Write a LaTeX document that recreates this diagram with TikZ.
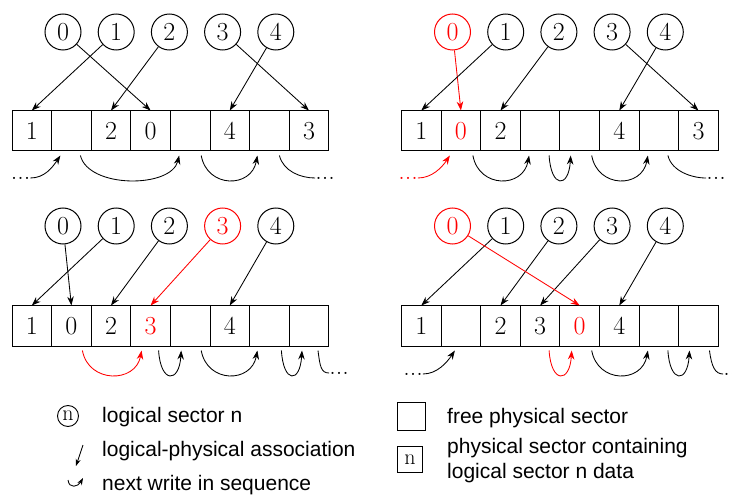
\documentclass[tikz,border=0pt]{standalone}
\usepackage{fontspec}
\setsansfont{Liberation Sans}
\usetikzlibrary{arrows.meta,calc}
\tikzset{
  digitfont/.style={font=\fontsize{26}{26}\selectfont},
  cellbox/.style={draw, line width=1pt, minimum width=39.6pt, minimum height=40pt, inner sep=0pt, digitfont},
  lsec/.style={draw, circle, line width=1pt, minimum size=36pt, inner sep=0pt, digitfont},
  assoc/.style={-{Stealth[length=9pt,width=6.5pt]}, line width=0.85pt},
  nextw/.style={-{Stealth[length=9pt,width=6.5pt]}, line width=0.85pt},
  dotsnode/.style={inner sep=0pt, digitfont},
  legtext/.style={anchor=base west, inner sep=0pt, font=\sffamily\fontsize{21}{21}\selectfont},
  legsmall/.style={draw, line width=0.9pt, inner sep=0pt, font=\fontsize{22}{22}\selectfont},
  legarrow/.style={-{Stealth[length=7pt,width=5pt]}, line width=0.85pt},
}
\begin{document}
\begin{tikzpicture}[x=1pt,y=-1pt]
\fill[white] (0,0) rectangle (732,500);
\useasboundingbox (0,0) rectangle (732,500);

% ---------- Panel A (top left) ----------
\foreach \i/\t/\c in {0/1/black,1//black,2/2/black,3/0/black,4//black,5/4/black,6//black,7/3/black}
  \node[cellbox,text=\c] (A\i) at ({12+39.6*(\i+0.5)},131) {\t};
\foreach \j/\c in {0/black,1/black,2/black,3/black,4/black}
  \node[lsec,draw=\c,text=\c] (Al\j) at ({63+53.2*\j},32) {\j};
\draw[assoc] (Al1) -- (A0.north);
\draw[assoc] (Al0) -- (A3.north);
\draw[assoc] (Al2) -- (A2.north);
\draw[assoc] (Al4) -- (A5.north);
\draw[assoc] (Al3) -- (A7.north);
\node[dotsnode] (Ad1) at (20.5,178) {...};
\node[dotsnode] (Ad2) at (325,178) {...};
\draw[nextw] (Ad1.east) .. controls +(14,0) and +(-8,12) .. ($(A1.south)+(-11,4)$);
\draw[nextw] ($(A1.south)+(9,4)$) .. controls +(8,33) and +(-8,33) .. ($(A4.south)+(-11,4)$);
\draw[nextw] ($(A4.south)+(11,4)$) .. controls +(6,33) and +(-6,33) .. ($(A6.south)+(-12,4)$);
\draw[line width=0.85pt] ($(A6.south)+(10,4)$) .. controls +(4,16) and +(-14,0) .. (Ad2.west);

% ---------- Panel B (top right) ----------
\foreach \i/\t/\c in {0/1/black,1/0/red,2/2/black,3//black,4//black,5/4/black,6//black,7/3/black}
  \node[cellbox,text=\c] (B\i) at ({401.5+39.6*(\i+0.5)},131) {\t};
\foreach \j/\c in {0/red,1/black,2/black,3/black,4/black}
  \node[lsec,draw=\c,text=\c] (Bl\j) at ({452.5+53.2*\j},32) {\j};
\draw[assoc,red] (Bl0) -- (B1.north);
\draw[assoc] (Bl1) -- (B0.north);
\draw[assoc] (Bl2) -- (B2.north);
\draw[assoc] (Bl4) -- (B5.north);
\draw[assoc] (Bl3) -- (B7.north);
\node[dotsnode,red] (Bd1) at (408,178) {...};
\node[dotsnode] (Bd2) at (716,178) {...};
\draw[nextw,red] (Bd1.east) .. controls +(14,0) and +(-8,12) .. ($(B1.south)+(-11,4)$);
\draw[nextw] ($(B1.south)+(12,4)$) .. controls +(6,33) and +(-6,33) .. ($(B3.south)+(-11,4)$);
\draw[nextw] ($(B3.south)+(9,4)$) .. controls +(2,33) and +(-2,33) .. ($(B4.south)+(-9,4)$);
\draw[nextw] ($(B4.south)+(12,4)$) .. controls +(6,33) and +(-6,33) .. ($(B6.south)+(-11,4)$);
\draw[line width=0.85pt] ($(B6.south)+(9,4)$) .. controls +(4,16) and +(-14,0) .. (Bd2.west);

% ---------- Panel C (bottom left) ----------
\foreach \i/\t/\c in {0/1/black,1/0/black,2/2/black,3/3/red,4//black,5/4/black,6//black,7//black}
  \node[cellbox,text=\c] (C\i) at ({12+39.6*(\i+0.5)},326) {\t};
\foreach \j/\c in {0/black,1/black,2/black,3/red,4/black}
  \node[lsec,draw=\c,text=\c] (Cl\j) at ({63+53.2*\j},226) {\j};
\draw[assoc] (Cl1) -- (C0.north);
\draw[assoc] (Cl0) -- (C1.north);
\draw[assoc] (Cl2) -- (C2.north);
\draw[assoc,red] (Cl3) -- (C3.north);
\draw[assoc] (Cl4) -- (C5.north);
\node[dotsnode] (Cd2) at (339,373) {...};
\draw[nextw,red] ($(C1.south)+(11,4)$) .. controls +(6,33) and +(-6,33) .. ($(C3.south)+(-9,4)$);
\draw[nextw] ($(C3.south)+(8,4)$) .. controls +(2,33) and +(-2,33) .. ($(C4.south)+(-9,4)$);
\draw[nextw] ($(C4.south)+(11,4)$) .. controls +(6,33) and +(-6,33) .. ($(C6.south)+(-12,4)$);
\draw[nextw] ($(C6.south)+(12,4)$) .. controls +(2,33) and +(-2,33) .. ($(C7.south)+(-7,4)$);
\draw[line width=0.85pt] ($(C7.south)+(9,4)$) .. controls +(2,16) and +(-8,0) .. (Cd2.west);

% ---------- Panel D (bottom right) ----------
\foreach \i/\t/\c in {0/1/black,1//black,2/2/black,3/3/black,4/0/red,5/4/black,6//black,7//black}
  \node[cellbox,text=\c] (D\i) at ({401.5+39.6*(\i+0.5)},326) {\t};
\foreach \j/\c in {0/red,1/black,2/black,3/black,4/black}
  \node[lsec,draw=\c,text=\c] (Dl\j) at ({452.5+53.2*\j},226) {\j};
\draw[assoc] (Dl1) -- (D0.north);
\draw[assoc] (Dl2) -- (D2.north);
\draw[assoc] (Dl3) -- (D3.north);
\draw[assoc,red] (Dl0) -- (D4.north);
\draw[assoc] (Dl4) -- (D5.north);
\node[dotsnode] (Dd1) at (413,374) {...};
\node[dotsnode] (Dd2) at (733,374) {...};
\draw[nextw] (Dd1.east) .. controls +(14,0) and +(-8,12) .. ($(D1.south)+(-6,4)$);
\draw[nextw,red] ($(D3.south)+(9,4)$) .. controls +(2,33) and +(-2,33) .. ($(D4.south)+(-8,4)$);
\draw[nextw] ($(D4.south)+(12,4)$) .. controls +(6,33) and +(-6,33) .. ($(D6.south)+(-11,4)$);
\draw[nextw] ($(D6.south)+(9,4)$) .. controls +(2,33) and +(-2,33) .. ($(D7.south)+(-9,4)$);
\draw[line width=0.85pt] ($(D7.south)+(11,4)$) .. controls +(2,16) and +(-8,0) .. (Dd2.west);

% ---------- Legend ----------
\node[legsmall,circle,minimum size=21pt] (Ln) at (68,416) {n};
\node[legtext] (Lt1) at (102,422) {logical sector n};
\coordinate (La1) at (83,445);
\coordinate (La2) at (76,466);
\draw[legarrow] (La1) -- (La2);
\node[legtext] (Lt2) at (102,456) {logical-physical association};
\coordinate (Lc1) at (68,480);
\coordinate (Lc2) at (83,478);
\draw[legarrow] (Lc1) .. controls +(1,9) and +(-5,9) .. (Lc2);
\node[legtext] (Lt3) at (102,490) {next write in sequence};
\node[legsmall,minimum size=28pt] (Lf) at (411,416) {};
\node[legtext] (Lt4) at (447,423) {free physical sector};
\node[legsmall,minimum size=25.5pt] (Lp) at (410,459.5) {n};
\node[legtext] (Lt5) at (447,453) {physical sector containing};
\node[legtext] (Lt6) at (447,478) {logical sector n data};
\end{tikzpicture}
\end{document}
